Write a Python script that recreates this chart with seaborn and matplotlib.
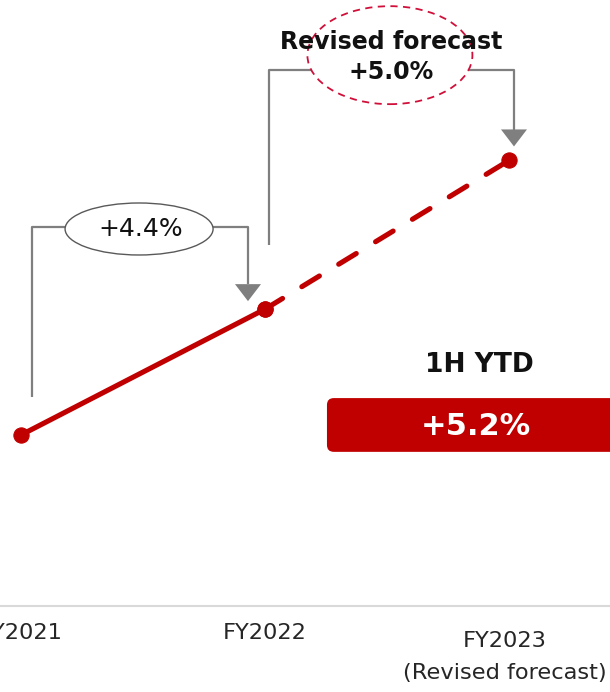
import matplotlib
matplotlib.use("Agg")
import matplotlib.pyplot as plt
from matplotlib.patches import Ellipse, Polygon, FancyBboxPatch
from matplotlib.transforms import ScaledTranslation
import seaborn as sns
import pandas as pd

# Data
years = ["FY2021", "FY2022", "FY2023\n(Revised forecast)"]
sales_index = [100.0, 104.4, 109.6]          # FY2021 = 100
growth_labels = ["+4.4%", "Revised forecast\n+5.0%"]
ytd_title = "1H YTD"
ytd_growth = "+5.2%"

RED = "#C00000"
GRAY = "#7F7F7F"

sns.set_theme(style="white")
plt.rcParams["font.family"] = ["DejaVu Sans"]

fig = plt.figure(figsize=(6.10, 6.92), dpi=100)
ax = fig.add_axes([0, 86 / 692, 1, 606 / 692])

pos = list(range(len(years)))
actual = pd.DataFrame({"x": pos[:2], "y": sales_index[:2]})
forecast = pd.DataFrame({"x": pos[1:], "y": sales_index[1:]})

sns.lineplot(data=actual, x="x", y="y", ax=ax, color=RED, linewidth=3.7,
             marker="o", markersize=11, markeredgecolor=RED, zorder=5,
             solid_capstyle="round")
sns.lineplot(data=forecast, x="x", y="y", ax=ax, color=RED, linewidth=3.7,
             marker="o", markersize=11, markeredgecolor=RED,
             dashes=False, zorder=5)
dashed = ax.lines[-1]
dashed.set_dashes((4.0, 4.4))
dashed.set_dash_capstyle("round")

ax.set_xlim(-0.086, 2.414)
ax.set_ylim(94.02, 115.21)

# scale helpers: units per pixel
ux = 1 / 244
uy = 1 / 28.6

# bracket for FY2021 -> FY2022
b1_top = sales_index[0] + 208 * uy
ax.plot([0 + 11 * ux, 0 + 11 * ux, 1 - 17 * ux, 1 - 17 * ux],
        [sales_index[0] + 38 * uy, b1_top, b1_top, sales_index[1] + 25 * uy],
        color=GRAY, lw=1.6, zorder=2, solid_capstyle="butt")
tip = (1 - 17 * ux, sales_index[1] + 8 * uy)
ax.add_patch(Polygon([(tip[0] - 13 * ux, tip[1] + 17 * uy),
                      (tip[0] + 13 * ux, tip[1] + 17 * uy), tip],
                     closed=True, color=GRAY, zorder=3, lw=0))
ax.add_patch(Ellipse((0.484, b1_top - 2 * uy), 148 * ux, 52 * uy,
                     facecolor="white", edgecolor="#595959", lw=1.0, zorder=4))
ax.text(0.49, b1_top - 2 * uy, growth_labels[0], ha="center", va="center",
        fontsize=18, color="#111111", zorder=6)

# bracket for FY2022 -> FY2023
b2_top = sales_index[1] + 239 * uy
ax.plot([1 + 4 * ux, 1 + 4 * ux, 2 + 5 * ux, 2 + 5 * ux],
        [sales_index[1] + 64 * uy, b2_top, b2_top, sales_index[2] + 30 * uy],
        color=GRAY, lw=1.6, zorder=2, solid_capstyle="butt")
tip = (2 + 5 * ux, sales_index[2] + 14 * uy)
ax.add_patch(Polygon([(tip[0] - 13 * ux, tip[1] + 17 * uy),
                      (tip[0] + 13 * ux, tip[1] + 17 * uy), tip],
                     closed=True, color=GRAY, zorder=3, lw=0))
ax.add_patch(Ellipse((1.512, b2_top + 15 * uy), 165 * ux, 98 * uy,
                     facecolor="white", edgecolor="#D0103A", lw=1.3,
                     linestyle=(0, (4, 3)), zorder=4))
ax.text(1.516, b2_top + 13 * uy, growth_labels[1], ha="center", va="center",
        fontsize=17, fontweight="bold", color="#111111", linespacing=1.35,
        zorder=6)

# 1H YTD badge
ax.text(1.877, 102.45, ytd_title, ha="center", va="center", fontsize=19,
        fontweight="bold", color="#111111")
ax.add_patch(FancyBboxPatch((1.254, 99.41), 1.3, 1.88,
                            boxstyle="round,pad=0,rounding_size=0.028",
                            mutation_aspect=244 / 28.6,
                            facecolor=RED, edgecolor="none", zorder=3))
ax.text(1.865, 100.31, ytd_growth, ha="center", va="center", fontsize=22,
        fontweight="bold", color="white", zorder=6)

# axes styling
ax.set_xticks(pos)
ax.set_xticklabels(years, fontsize=16.2, color="#262626", linespacing=1.8)
ax.tick_params(axis="x", length=0, pad=12)
ax.set_yticks([])
ax.set_xlabel("")
ax.set_ylabel("")
for side in ["top", "left", "right"]:
    ax.spines[side].set_visible(False)
ax.spines["bottom"].set_color("#D9D9D9")
ax.spines["bottom"].set_linewidth(1.5)

lbl = ax.get_xticklabels()[2]
lbl.set_transform(lbl.get_transform()
                  + ScaledTranslation(-4 / 100, -8 / 100, fig.dpi_scale_trans))

fig.savefig("out.png", dpi=100)
